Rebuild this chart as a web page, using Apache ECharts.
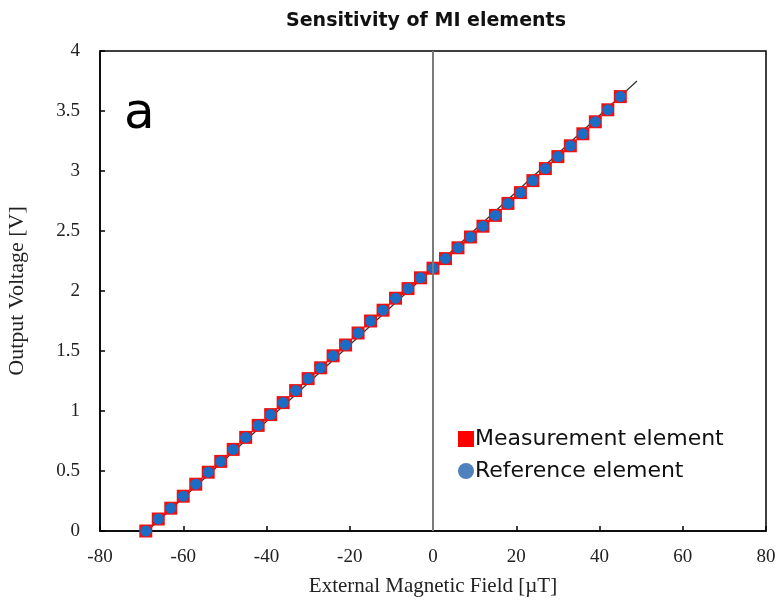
<!DOCTYPE html>
<html><head><meta charset="utf-8">
<script src="https://cdn.jsdelivr.net/npm/echarts@6/dist/echarts.min.js"></script>
<style>html,body{margin:0;padding:0;background:#fff}#c{width:779px;height:601px}</style>
</head><body><div id="c"></div>
<script>
var fieldUT = [-69,-66,-63,-60,-57,-54,-51,-48,-45,-42,-39,-36,-33,-30,-27,-24,-21,-18,-15,-12,-9,-6,-3,0,3,6,9,12,15,18,21,24,27,30,33,36,39,42,45];
var measurementV = [0.00,0.10,0.19,0.29,0.39,0.49,0.58,0.68,0.78,0.88,0.97,1.07,1.17,1.27,1.36,1.46,1.55,1.65,1.75,1.84,1.94,2.02,2.11,2.19,2.27,2.36,2.45,2.54,2.63,2.73,2.82,2.92,3.02,3.12,3.21,3.31,3.41,3.51,3.62];
var referenceV   = [0.00,0.10,0.19,0.29,0.39,0.49,0.58,0.68,0.78,0.88,0.97,1.07,1.17,1.27,1.36,1.46,1.55,1.65,1.75,1.84,1.94,2.02,2.11,2.19,2.27,2.36,2.45,2.54,2.63,2.73,2.82,2.92,3.02,3.12,3.21,3.31,3.41,3.51,3.62];
var trendX = [-69, 49];
var trendY = [-0.01, 3.75];
var xTicks = [-80,-60,-40,-20,0,20,40,60,80];
var yTicks = [0,0.5,1,1.5,2,2.5,3,3.5,4];

function pairs(xs, ys){ return xs.map(function(x,i){ return [x, ys[i]]; }); }

var chart = echarts.init(document.getElementById('c'), null, {renderer:'canvas'});
var serif = 'Liberation Serif';
chart.setOption({
  animation:false,
  backgroundColor:'#fff',
  title:{text:'Sensitivity of MI elements', left:421, top:7, textAlign:'center',
    textStyle:{fontFamily:'DejaVu Sans', fontWeight:'bold', fontSize:19, color:'#111'}},
  grid:{left:100, right:13, top:51, bottom:70, show:true, borderColor:'#000', borderWidth:1.5, backgroundColor:'transparent', outerBoundsMode:'none', containLabel:false},
  xAxis:{type:'value', min:-80, max:80, interval:20,
    name:'External Magnetic Field [\u00b5T]', nameLocation:'middle', nameGap:45,
    nameTextStyle:{fontFamily:serif, fontSize:21, color:'#222'},
    axisLine:{onZero:false, lineStyle:{color:'#000', width:1.5}},
    axisTick:{inside:true, length:5, lineStyle:{color:'#000', width:1.5}},
    axisLabel:{fontFamily:serif, fontSize:19, color:'#222', margin:17, formatter:function(v){return xTicks.indexOf(v)>=0? String(v):'';}},
    splitLine:{show:false}},
  yAxis:{type:'value', min:0, max:4, interval:0.5,
    name:'Output Voltage [V]', nameLocation:'middle', nameGap:72,
    nameTextStyle:{fontFamily:serif, fontSize:22, color:'#222'},
    axisLine:{onZero:false, lineStyle:{color:'#000', width:1.5}},
    axisTick:{inside:true, length:5, lineStyle:{color:'#000', width:1.5}},
    axisLabel:{fontFamily:serif, fontSize:19, color:'#222', margin:20, formatter:function(v){return yTicks.indexOf(v)>=0? String(v):'';}},
    splitLine:{show:false}},
  legend:{orient:'vertical', left:453, top:423, itemWidth:16, itemHeight:16, itemGap:10,
    textStyle:{fontFamily:'DejaVu Sans', fontSize:22, color:'#111', padding:[0,0,0,-4]},
    data:[{name:'Measurement element', icon:'rect', itemStyle:{color:'#ff0000'}},
          {name:'Reference element', icon:'circle', itemStyle:{color:'#4f81bd'}}]},
  graphic:[{type:'text', left:124, top:90, style:{text:'a', fontFamily:'DejaVu Sans', fontSize:50, fill:'#000'}}],
  series:[
    {name:'trend', type:'line', data:pairs(trendX, trendY), showSymbol:false, symbol:'none',
     lineStyle:{color:'#333', width:1.3}, z:1, silent:true,
     markLine:{silent:true, symbol:'none', label:{show:false}, lineStyle:{color:'#7a7a7a', width:2, type:'solid'},
       data:[[{coord:[0,0]},{coord:[0,4]}]]}},
    {name:'Measurement element', type:'scatter', data:pairs(fieldUT, measurementV), symbol:'rect', symbolSize:13,
     itemStyle:{color:'#ee1111', opacity:1}, z:3},
    {name:'Reference element', type:'scatter', data:pairs(fieldUT, referenceV), symbol:'circle', symbolSize:11,
     itemStyle:{color:'#1a6cc4', opacity:1}, z:4}
  ]
});
</script></body></html>
